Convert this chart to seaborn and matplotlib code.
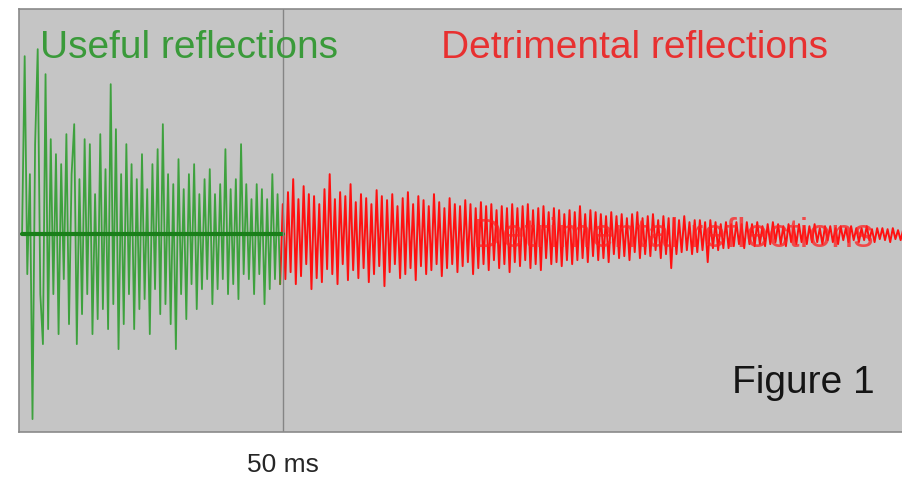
import numpy as np
import pandas as pd
import seaborn as sns
import matplotlib.pyplot as plt

# Amplitudes (bildpunkt-ähnliche Einheiten, 0 = Nulllinie), Abtastung alle 0.5 ms
step_ms = 0.5

useful_amp = [
    0, 178, -40, 60, -185, 90, 185, -60, -110, 160,
    -95, 95, -60, 80, -100, 70, -45, 100, -90, 60,
    110, -110, 55, -80, 95, -60, 90, -100, 40, -85,
    100, -75, 65, -95, 150, -70, 105, -115, 60, -90,
    90, -60, 70, -95, 55, -75, 80, -65, 45, -100,
    70, -55, 85, -80, 110, -70, 60, -90, 50, -115,
    75, -60, 45, -85, 60, -50, 70, -75, 40, -55,
    55, -45, 65, -70, 40, -55, 50, -45, 85, -60,
    45, -50, 55, -65, 90, -40, 50, -45, 35, -60,
    50, -40, 45, -70, 35, -55, 60, -45, 40, -50,
]

detrimental_amp = [
    30, -45, 42, -38, 55, -50, 35, -42, 48, -30,
    40, -55, 38, -44, 30, -48, 45, -35, 60, -40,
    35, -50, 42, -30, 38, -46, 50, -36, 32, -44,
    40, -34, 36, -48, 30, -40, 44, -32, 38, -52,
    34, -38, 40, -30, 28, -44, 36, -40, 42, -34,
    30, -46, 38, -32, 34, -40, 28, -36, 40, -30,
    32, -42, 26, -34, 36, -30, 30, -38, 28, -32,
    34, -28, 30, -40, 26, -34, 32, -30, 28, -36,
    30, -26, 24, -34, 28, -30, 26, -38, 30, -28,
    26, -32, 28, -26, 30, -34, 24, -30, 26, -36,
    28, -24, 22, -30, 26, -28, 24, -32, 20, -26,
    24, -30, 22, -26, 28, -24, 20, -28, 24, -22,
    22, -26, 20, -24, 18, -28, 22, -20, 18, -24,
    20, -22, 16, -26, 20, -18, 22, -24, 16, -20,
    18, -22, 20, -16, 14, -24, 18, -20, 16, -34,
    16, -20, 14, -18, 18, -16, 12, -20, 14, -18,
    14, -16, 12, -28, 14, -14, 12, -16, 10, -14,
    12, -14, 10, -12, 12, -10, 10, -14, 12, -10,
    10, -12, 12, -10, 8, -12, 10, -10, 12, -8,
    10, -10, 8, -12, 10, -8, 8, -10, 10, -8,
    8, -10, 8, -8, 10, -8, 6, -10, 8, -6,
    8, -8, 6, -10, 8, -6, 6, -8, 8, -6,
    6, -8, 6, -6, 8, -6, 5, -8, 6, -5,
    6, -6, 5, -8, 6, -5, 4, -6, 5, -4,
]

split_ms = 50
tick_label = "50 ms"
label_useful = "Useful reflections"
label_detrimental = "Detrimental reflections"
figure_label = "Figure 1"

# DataFrames
useful = pd.DataFrame({"t": np.arange(len(useful_amp)) * step_ms, "amp": useful_amp})
detrimental = pd.DataFrame({"t": split_ms - step_ms + np.arange(len(detrimental_amp) + 1) * step_ms,
                            "amp": [useful_amp[-1]] + detrimental_amp})

sns.set_style("white")
plt.rcParams["font.family"] = ["Liberation Sans", "DejaVu Sans"]

fig = plt.figure(figsize=(9.02, 4.85), dpi=100)
ax = fig.add_axes([0.021, 0.107, 0.985, 0.872])
ax.set_facecolor("#c5c5c5")

sns.lineplot(data=detrimental, x="t", y="amp", color="#ff1010", lw=1.4,
             estimator=None, sort=False, ax=ax)
sns.lineplot(data=useful, x="t", y="amp", color="#2f9e2f", lw=1.3, alpha=0.9,
             estimator=None, sort=False, ax=ax)
ax.plot([0, split_ms], [0, 0], color="#1a7f1a", lw=3)

ax.axvline(split_ms, color="#858585", lw=1)

ax.set_xlim(-0.6, 169.8)
ax.set_ylim(-198, 225)
ax.set_xticks([split_ms])
ax.set_xticklabels([tick_label], fontsize=19)
ax.tick_params(axis="x", length=0, pad=14)
ax.set_yticks([])
ax.set_xlabel("")
ax.set_ylabel("")
for s in ax.spines.values():
    s.set_color("#8a8a8a")
    s.set_linewidth(1.2)

ax.text(3.5, 177, label_useful, color="#3a9a3a", fontsize=28, ha="left", va="baseline")
ax.text(80.4, 177, label_detrimental, color="#e83030", fontsize=28, ha="left", va="baseline")
ax.text(86.5, -12, label_detrimental, color="#ff2020", alpha=0.75, fontsize=29,
        ha="left", va="baseline")
ax.text(136.2, -158, figure_label, color="#151515", fontsize=28, ha="left", va="baseline")

plt.savefig("out.png", dpi=100)
